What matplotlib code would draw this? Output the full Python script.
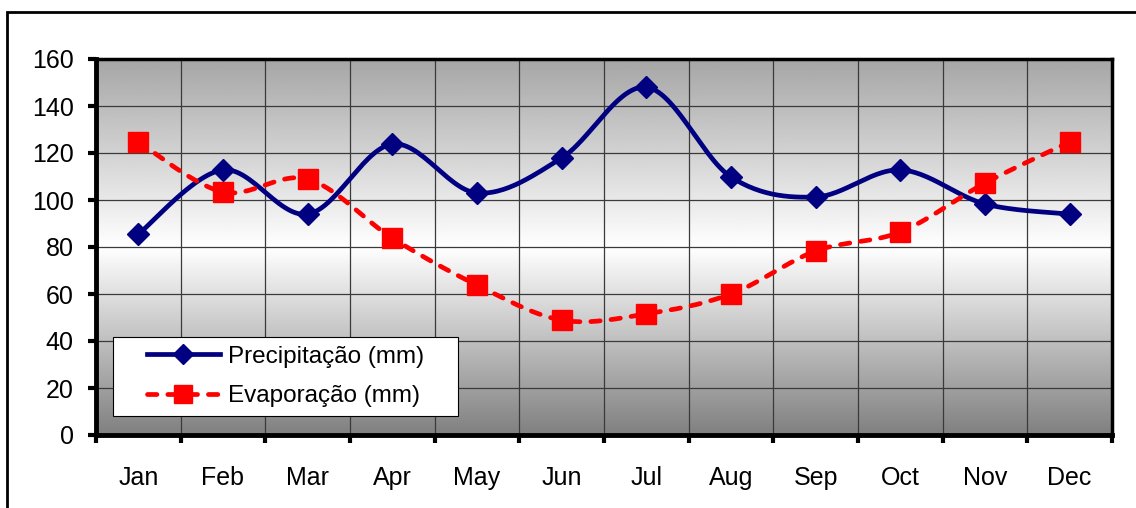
import numpy as np
import matplotlib
matplotlib.use("Agg")
import matplotlib.pyplot as plt
from matplotlib.patches import Rectangle

months = ["Jan", "Feb", "Mar", "Apr", "May", "Jun",
          "Jul", "Aug", "Sep", "Oct", "Nov", "Dec"]
precip = [85.5, 112.8, 94.0, 123.8, 103.0, 117.9,
          148.0, 109.8, 101.3, 112.8, 98.3, 94.0]
evap = [124.7, 103.4, 108.9, 83.8, 63.8, 48.9,
        51.5, 60.0, 78.3, 86.4, 107.2, 124.7]
y_ticks = [0, 20, 40, 60, 80, 100, 120, 140, 160]


def smooth(x, y, n=30):
    # catmull-rom style bezier through every point (spreadsheet "smoothed line")
    x = np.asarray(x, float)
    y = np.asarray(y, float)
    px = np.concatenate([[x[0]], x, [x[-1]]])
    py = np.concatenate([[y[0]], y, [y[-1]]])
    t = np.linspace(0, 1, n)
    xs, ys = [], []
    for i in range(1, len(px) - 2):
        p0 = np.array([px[i], py[i]])
        p3 = np.array([px[i + 1], py[i + 1]])
        p1 = p0 + (p3 - np.array([px[i - 1], py[i - 1]])) / 6
        p2 = p3 - (np.array([px[i + 2], py[i + 2]]) - p0) / 6
        b = ((1 - t) ** 3)[:, None] * p0 + (3 * (1 - t) ** 2 * t)[:, None] * p1 \
            + (3 * (1 - t) * t ** 2)[:, None] * p2 + (t ** 3)[:, None] * p3
        xs.append(b[:, 0])
        ys.append(b[:, 1])
    return np.concatenate(xs), np.concatenate(ys)


plt.rcParams["font.family"] = ["Liberation Sans", "DejaVu Sans"]
FS = 18
BLUE = "#000080"
RED = "#ff0000"
LW = 3.4
DASH = (0, (2.0, 2.3))

fig = plt.figure(figsize=(11.36, 5.08), dpi=100)
fig.patches.append(Rectangle((7 / 1136, -0.1), 1.2, 1 - 12 / 508 + 0.1,
                             transform=fig.transFigure, fill=False,
                             edgecolor="black", linewidth=2))
ax = fig.add_axes([96 / 1136, 1 - 435 / 508, (1112 - 96) / 1136, (435 - 59) / 508])

# vertical gray-white-gray gradient behind the plot
g = np.linspace(0, 1, 256)
shade = np.where(g < 0.5, 0.5 + 0.5 * (g / 0.5), 1.0 - 0.35 * ((g - 0.5) / 0.5))
ax.imshow(shade[:, None], extent=[-0.5, 11.5, 0, 160], origin="lower",
          cmap="gray", vmin=0, vmax=1, aspect="auto", zorder=0)

x = np.arange(len(months))
sx, sy = smooth(x, precip)
ax.plot(sx, sy, color=BLUE, lw=LW, zorder=3, solid_capstyle="round")
ax.plot(x, precip, ls="none", marker="D", ms=11, color=BLUE, zorder=4)
ex, ey = smooth(x, evap)
ax.plot(ex, ey, color=RED, lw=LW, ls=DASH, dash_capstyle="round", zorder=3)
ax.plot(x, evap, ls="none", marker="s", ms=14, color=RED, zorder=4)

# legend box drawn separately so its padding can be wider than tall
bx0, bx1 = (113 - 96) / 1016, (458 - 96) / 1016
by0, by1 = (435 - 416) / 376, (435 - 337) / 376
ax.add_patch(Rectangle((bx0, by0), bx1 - bx0, by1 - by0, transform=ax.transAxes,
                       facecolor="white", edgecolor="black", lw=0.8, zorder=5))
ax.plot([], [], color=BLUE, lw=LW, marker="D", ms=10, label="Precipitação (mm)")
ax.plot([], [], color=RED, lw=LW, ls=DASH, dash_capstyle="round", marker="s", ms=13,
        label="Evaporação (mm)")
leg = ax.legend(loc="center", bbox_to_anchor=((bx0 + bx1) / 2, (by0 + by1) / 2),
                fontsize=17.5, frameon=False, handlelength=3.0, borderpad=0,
                labelspacing=0.72, handletextpad=0.35, borderaxespad=0,
                numpoints=1)
leg.set_zorder(6)

ax.set_xlim(-0.5, 11.5)
ax.set_ylim(0, 160)
ax.set_yticks(y_ticks)
ax.set_xticks(np.arange(-0.5, 12, 1))
ax.set_xticklabels([])
ax.set_xticks(x, minor=True)
ax.set_xticklabels(months, minor=True, fontsize=FS)
ax.tick_params(axis="x", which="minor", length=0, pad=22)
ax.tick_params(axis="x", which="major", length=6, width=3, direction="out")
ax.tick_params(axis="y", length=6, width=3, direction="out", labelsize=FS, pad=10)
ax.grid(True, which="major", color="#3a3a3a", lw=0.9, zorder=1)
ax.set_axisbelow(True)
for s in ["left", "bottom"]:
    ax.spines[s].set_linewidth(3.5)
for s in ["top", "right"]:
    ax.spines[s].set_linewidth(2.5)

fig.savefig("out.png", dpi=100)
